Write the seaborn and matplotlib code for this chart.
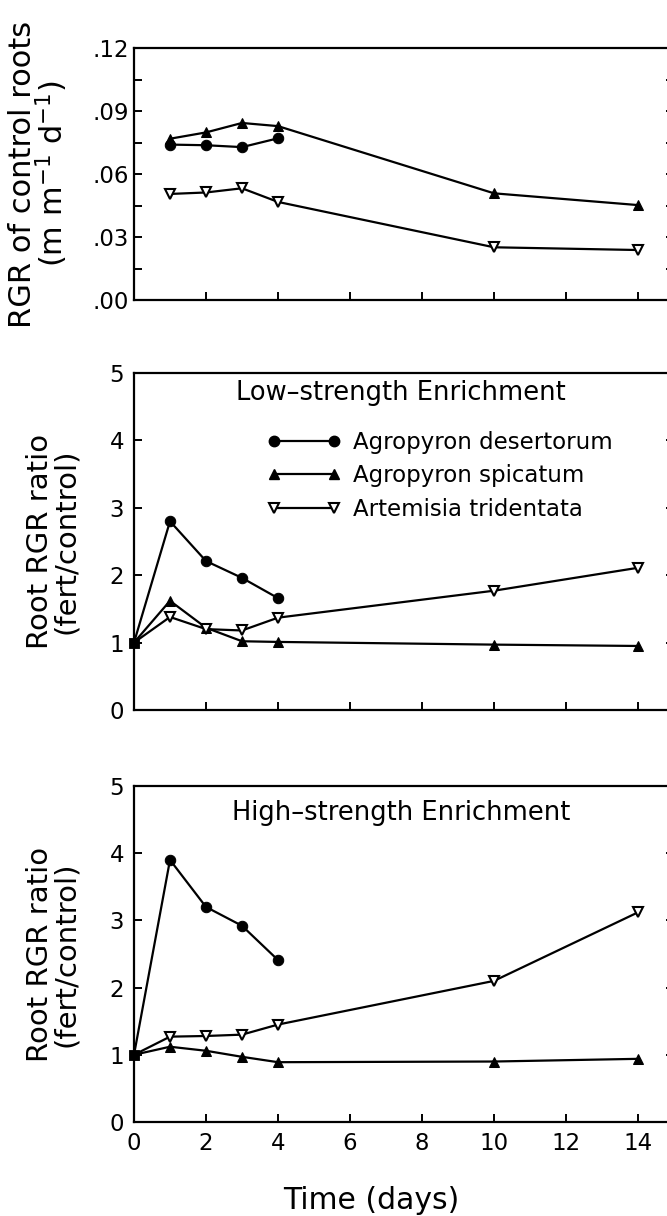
import matplotlib
matplotlib.use("Agg")
import matplotlib.pyplot as plt
from matplotlib.lines import Line2D
from matplotlib.ticker import FixedLocator, FixedFormatter, MultipleLocator
import seaborn as sns

sns.set_style("ticks")
plt.rcParams["font.family"] = ["DejaVu Sans"]
plt.rcParams["text.color"] = "black"
plt.rcParams["axes.labelcolor"] = "black"
plt.rcParams["xtick.color"] = "black"
plt.rcParams["ytick.color"] = "black"

# ---------------- data ----------------
days_ctrl_des = [1, 2, 3, 4]
days_ctrl = [1, 2, 3, 4, 10, 14]
ctrl_desertorum = [0.0740, 0.0737, 0.0728, 0.0770]
ctrl_spicatum = [0.0768, 0.0798, 0.0843, 0.0828, 0.0508, 0.0452]
ctrl_artemisia = [0.0505, 0.0512, 0.0532, 0.0467, 0.0251, 0.0238]

days_des = [0, 1, 2, 3, 4]
days_all = [0, 1, 2, 3, 4, 10, 14]
low_desertorum = [1.0, 2.80, 2.21, 1.96, 1.66]
low_spicatum = [1.0, 1.62, 1.22, 1.02, 1.01, 0.97, 0.95]
low_artemisia = [1.0, 1.38, 1.20, 1.18, 1.37, 1.77, 2.11]

high_desertorum = [1.0, 3.90, 3.20, 2.92, 2.41]
high_spicatum = [1.0, 1.12, 1.06, 0.97, 0.89, 0.90, 0.94]
high_artemisia = [1.0, 1.27, 1.28, 1.30, 1.45, 2.10, 3.12]

origin_x = [0]
origin_y = [1.0]

species = ["Agropyron desertorum", "Agropyron spicatum", "Artemisia tridentata"]
ctrl_ticks = [0.0, 0.03, 0.06, 0.09, 0.12]
ctrl_ticklabels = [".00", ".03", ".06", ".09", ".12"]
ratio_ticks = [0, 1, 2, 3, 4, 5]
x_ticks = [0, 2, 4, 6, 8, 10, 12, 14]
titles = ["Low\u2013strength Enrichment", "High\u2013strength Enrichment"]

# ---------------- styles ----------------
LW = 1.6
styles = {
    species[0]: dict(marker="o", markersize=7.5, markerfacecolor="black", markeredgecolor="black"),
    species[1]: dict(marker="^", markersize=7.5, markerfacecolor="black", markeredgecolor="black"),
    species[2]: dict(marker="v", markersize=7.5, markerfacecolor="white", markeredgecolor="black",
                     markeredgewidth=1.5),
}

W, H = 667, 1216
fig = plt.figure(figsize=(W / 100, H / 100), dpi=100)
left = 134 / W
width = 540 / W
ax1 = fig.add_axes([left, 1 - 300 / H, width, 252 / H])
ax2 = fig.add_axes([left, 1 - 710 / H, width, 337 / H])
ax3 = fig.add_axes([left, 1 - 1122 / H, width, 336 / H])


def draw(ax, x, y, sp, skip_first=False):
    kw = dict(styles[sp])
    if skip_first:
        kw["markevery"] = slice(1, None)
    sns.lineplot(x=x, y=y, ax=ax, color="black", linewidth=LW, clip_on=False,
                 zorder=3, **kw)


def style_axes(ax, pad):
    for s in ax.spines.values():
        s.set_linewidth(1.6)
        s.set_color("black")
    ax.set_xlim(0, 15)
    ax.xaxis.set_major_locator(FixedLocator(x_ticks))
    ax.tick_params(axis="both", direction="in", length=6, width=1.4,
                   right=True, top=False, labelsize=16.5, colors="black")
    ax.tick_params(axis="y", pad=pad)
    ax.tick_params(axis="x", pad=7)
    ax.tick_params(axis="both", which="minor", direction="in", length=6, width=1.4,
                   right=True, top=False)
    ax.set_xlabel("")
    ax.set_ylabel("")


# panel 1
draw(ax1, days_ctrl_des, ctrl_desertorum, species[0])
draw(ax1, days_ctrl, ctrl_spicatum, species[1])
draw(ax1, days_ctrl, ctrl_artemisia, species[2])
style_axes(ax1, pad=3.5)
ax1.set_ylim(0, 0.12)
ax1.yaxis.set_major_locator(FixedLocator(ctrl_ticks))
ax1.yaxis.set_major_formatter(FixedFormatter(ctrl_ticklabels))
ax1.yaxis.set_minor_locator(MultipleLocator(0.015))
ax1.tick_params(axis="x", labelbottom=False)
ax1.set_ylabel("RGR of control roots\n(m m$^{-1}$ d$^{-1}$)", fontsize=22, linespacing=0.9)
ax1.yaxis.set_label_coords(-0.118, 0.5)

# panels 2 & 3
for ax, des, spi, art, title, ty in [
    (ax2, low_desertorum, low_spicatum, low_artemisia, titles[0], 0.94),
    (ax3, high_desertorum, high_spicatum, high_artemisia, titles[1], 0.92),
]:
    draw(ax, days_des, des, species[0], skip_first=True)
    draw(ax, days_all, spi, species[1], skip_first=True)
    draw(ax, days_all, art, species[2], skip_first=True)
    sns.scatterplot(x=origin_x, y=origin_y, ax=ax, marker="s", s=60, color="black",
                    edgecolor="black", clip_on=False, zorder=4, legend=False)
    style_axes(ax, pad=7)
    ax.set_ylim(0, 5)
    ax.yaxis.set_major_locator(FixedLocator(ratio_ticks))
    ax.set_ylabel("Root RGR ratio\n(fert/control)", fontsize=21, linespacing=0.9)
    ax.yaxis.set_label_coords(-0.10, 0.5)
    ax.text(0.495, ty, title, transform=ax.transAxes, ha="center", va="center",
            fontsize=18.5)

ax2.tick_params(axis="x", labelbottom=False)
ax3.set_xlabel("Time (days)", fontsize=21.5)
ax3.xaxis.set_label_coords(0.44, -0.19)

handles = [Line2D([], [], color="black", linewidth=LW, **styles[sp]) for sp in species]
ax2.legend(handles, species, loc="upper left", bbox_to_anchor=(0.23, 0.855),
           frameon=False, numpoints=2, fontsize=16.5, handlelength=3.2,
           handletextpad=0.55, labelspacing=0.45, borderaxespad=0)

fig.savefig("out.png", dpi=100)
